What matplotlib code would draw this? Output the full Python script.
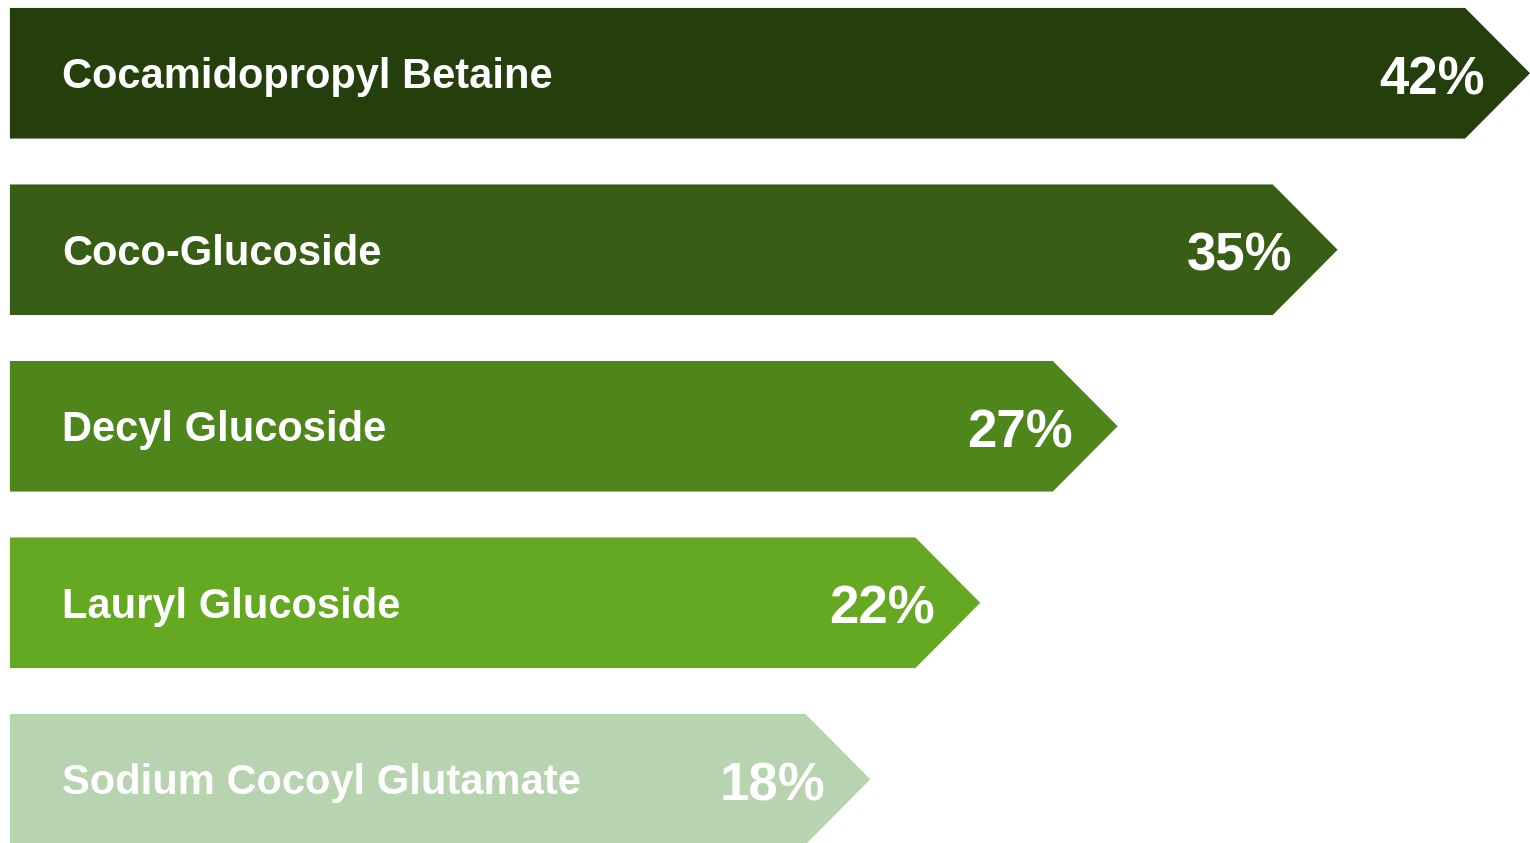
import matplotlib.pyplot as plt

# data
ingredients = ['Cocamidopropyl Betaine', 'Coco-Glucoside', 'Decyl Glucoside',
               'Lauryl Glucoside', 'Sodium Cocoyl Glutamate']
shares = [42, 35, 27, 22, 18]
value_labels = ['42%', '35%', '27%', '22%', '18%']
colors = ['#243f0c', '#375e14', '#4f861c', '#65a821', '#b8d3af']

plt.rcParams['font.family'] = ['Liberation Sans', 'DejaVu Sans']

fig = plt.figure(figsize=(15.3, 8.43), dpi=100)
ax = fig.add_axes([0, 0, 1, 1])

x_base = -13.3      # bars start left of zero (infographic, not to scale)
bar_h = 0.74
tip = 2.36          # depth of the chevron point, data units

for i, (name, v, lab, c) in enumerate(zip(ingredients, shares, value_labels, colors)):
    top, bot = i - bar_h / 2, i + bar_h / 2
    xs = [x_base, v - tip, v, v - tip, x_base]
    ys = [top, top, i, bot, bot]
    ax.fill(xs, ys, color=c, lw=0)
    ax.annotate(name, xy=(x_base, i), xytext=(52, -15), textcoords='offset pixels',
                color='white', fontsize=30, fontweight='bold', va='baseline', ha='left',
                annotation_clip=False)
    ax.annotate(lab, xy=(v, i), xytext=(-45, -21), textcoords='offset pixels',
                color='white', fontsize=38, fontweight='bold', va='baseline', ha='right',
                annotation_clip=False)

ax.set_xlim(-13.66, 42.0)
ax.set_ylim(4.361, -0.415)
ax.set_axis_off()

plt.savefig('out.png', dpi=100)
